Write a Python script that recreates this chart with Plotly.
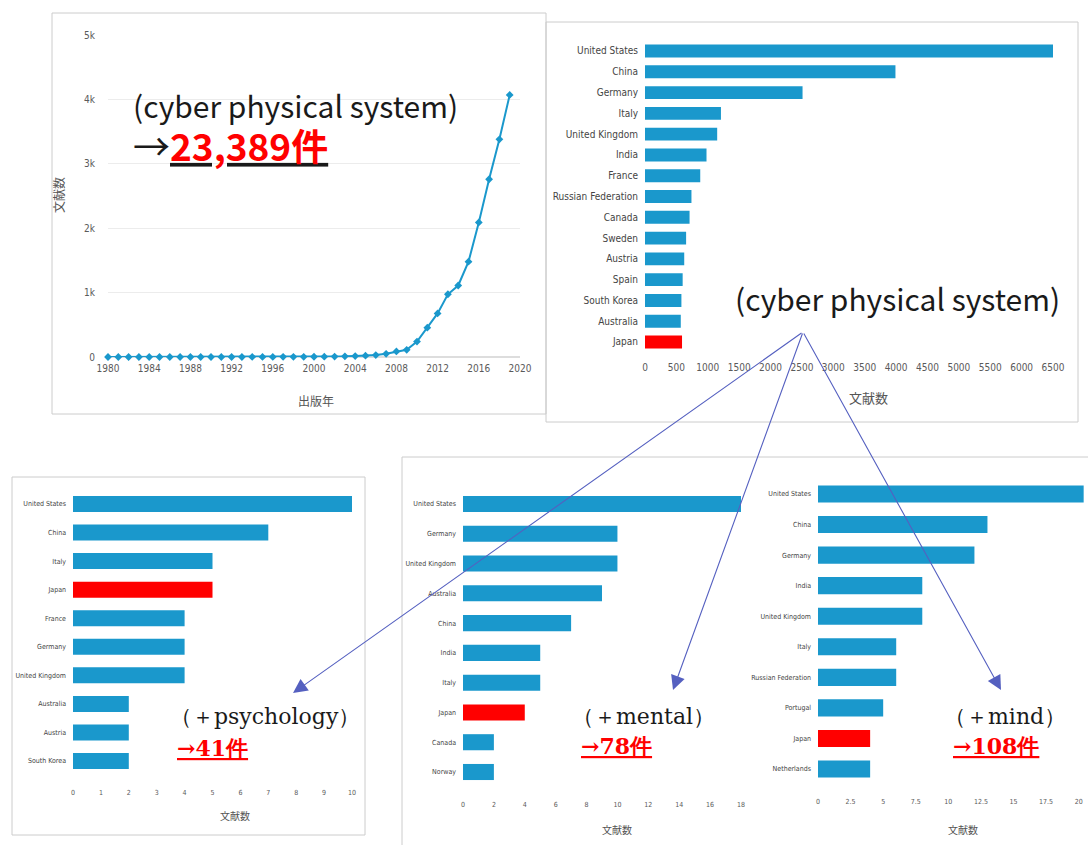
import plotly.graph_objects as go

W, H = 1088, 845

# ---------------- data ----------------
years = list(range(1980, 2020))
pubs = [0, 0, 0, 0, 0, 0, 0, 0, 0, 0,
        0, 0, 0, 0, 1, 1, 1, 2, 2, 3,
        4, 5, 7, 10, 15, 20, 30, 50, 86, 112,
        240, 456, 677, 974, 1110, 1480, 2090, 2760, 3380, 4070]
line_yticks = [0, 1000, 2000, 3000, 4000, 5000]
line_ytext = ["0", "1k", "2k", "3k", "4k", "5k"]
line_xticks = [1980, 1984, 1988, 1992, 1996, 2000, 2004, 2008, 2012, 2016, 2020]

cps_countries = ["United States", "China", "Germany", "Italy", "United Kingdom", "India",
                 "France", "Russian Federation", "Canada", "Sweden", "Austria", "Spain",
                 "South Korea", "Australia", "Japan"]
cps_values = [6550, 3990, 2510, 1210, 1150, 980, 880, 740, 710, 655, 625, 600, 580, 570, 590]

psy_countries = ["United States", "China", "Italy", "Japan", "France", "Germany",
                 "United Kingdom", "Australia", "Austria", "South Korea"]
psy_values = [10, 7, 5, 5, 4, 4, 4, 2, 2, 2]

mental_countries = ["United States", "Germany", "United Kingdom", "Australia", "China",
                    "India", "Italy", "Japan", "Canada", "Norway"]
mental_values = [18, 10, 10, 9, 7, 5, 5, 4, 2, 2]

mind_countries = ["United States", "China", "Germany", "India", "United Kingdom", "Italy",
                  "Russian Federation", "Portugal", "Japan", "Netherlands"]
mind_values = [21, 13, 12, 8, 8, 6, 6, 5, 4, 4]

BLUE = "#1a98cc"
RED = "#ff0000"
GRID = "#ececec"
TICKC = "#5a5a5a"
NARROW = "Liberation Sans Narrow, Arial Narrow, DejaVu Sans Condensed, sans-serif"
JP = "Noto Sans CJK JP, sans-serif"
SERIF = "DejaVu Serif, Liberation Serif, serif"


def fx(x):
    return x / W


def fy(y):
    return 1 - y / H


def colors(countries):
    return [RED if c == "Japan" else BLUE for c in countries]


fig = go.Figure()

# line chart
fig.add_trace(go.Scatter(x=years, y=pubs, mode="lines+markers", xaxis="x", yaxis="y",
                         line=dict(color=BLUE, width=2),
                         marker=dict(symbol="diamond", size=6, color=BLUE),
                         cliponaxis=False, showlegend=False))

# bar charts
bar_sets = [
    (cps_countries, cps_values, "x2", "y2", 0.62),
    (psy_countries, psy_values, "x3", "y3", 0.56),
    (mental_countries, mental_values, "x4", "y4", 0.54),
    (mind_countries, mind_values, "x5", "y5", 0.56),
]
for cats, vals, xa, ya, wd in bar_sets:
    fig.add_trace(go.Bar(x=vals, y=cats, orientation="h", xaxis=xa, yaxis=ya,
                         marker=dict(color=colors(cats), line=dict(width=0)),
                         width=wd, showlegend=False))

layout = dict(
    width=W, height=H, autosize=False,
    margin=dict(l=0, r=0, t=0, b=0, pad=0, autoexpand=False),
    paper_bgcolor="white", plot_bgcolor="rgba(0,0,0,0)",
    bargap=0.4, showlegend=False,
)

# line chart axes
layout["xaxis"] = dict(domain=[fx(108), fx(520)], range=[1980, 2020], tickvals=line_xticks,
                       showgrid=False, zeroline=False, showline=False, ticks="",
                       automargin=False,
                       tickfont=dict(family=NARROW, size=10, color=TICKC),
                       ticklabelstandoff=4, anchor="y")
layout["yaxis"] = dict(domain=[fy(357), fy(35)], range=[0, 5000], tickvals=line_yticks,
                       ticktext=line_ytext, showgrid=True, gridcolor=GRID, gridwidth=1,
                       zeroline=True, zerolinecolor="#dddddd", showline=False,
                       automargin=False,
                       tickfont=dict(family=NARROW, size=10, color=TICKC),
                       ticklabelstandoff=12, anchor="x")


def bar_axes(n, xdom, ytop, ybot, ncat, xrange, dtick, tickfont_size, labfont_size,
             x_standoff, cats, ticktext=None, tickvals=None):
    sp = (ybot - ytop) / (ncat - 1)
    xa = dict(domain=[fx(xdom[0]), fx(xdom[1])], range=xrange, showgrid=False,
              zeroline=False, showline=False, ticks="", automargin=False,
              tickfont=dict(family=NARROW, size=tickfont_size, color=TICKC),
              ticklabelstandoff=x_standoff, anchor="y%d" % n)
    if tickvals is not None:
        xa["tickvals"] = tickvals
        xa["ticktext"] = ticktext
    else:
        xa["dtick"] = dtick
        xa["tick0"] = 0
    ya = dict(domain=[fy(ybot + sp / 2), fy(ytop - sp / 2)], type="category",
              categoryorder="array", categoryarray=cats, automargin=False,
              range=[ncat - 0.5, -0.5], showgrid=False, zeroline=False, showline=False,
              ticks="", tickfont=dict(family=NARROW, size=labfont_size, color="#444"),
              ticklabelstandoff=6, anchor="x%d" % n)
    layout["xaxis%d" % n] = xa
    layout["yaxis%d" % n] = ya


bar_axes(2, (645, 1053), 51, 342, 15, [0, 6500], 500, 10, 10, 8, cps_countries)
bar_axes(3, (73, 352), 504, 761, 10, [0, 10], 1, 7, 7, 12, psy_countries)
bar_axes(4, (463, 741), 504, 772, 10, [0, 18], 2, 7, 7, 12, mental_countries)
bar_axes(5, (818, 1083 + 5 * 265 / 2000), 494, 769, 10, [0, 20.38], 2.5, 7, 7, 12,
         mind_countries,
         tickvals=[0, 2.5, 5, 7.5, 10, 12.5, 15, 17.5, 20],
         ticktext=["0", "2.5", "5", "7.5", "10", "12.5", "15", "17.5", "20"])

fig.update_layout(**layout)

# panel frames
frames = [(52, 13, 546, 414), (546, 22, 1078, 422), (12, 477, 365, 835), (402, 457, 1092, 850)]
for x0, y0, x1, y1 in frames:
    fig.add_shape(type="rect", xref="paper", yref="paper",
                  x0=fx(x0), x1=fx(x1), y0=fy(y1), y1=fy(y0),
                  line=dict(color="#cccccc", width=1), fillcolor="rgba(0,0,0,0)", layer="below")


def ann(text, x, y, size, color="#222", family=JP, xanchor="center", angle=0, align="center"):
    fig.add_annotation(text=text, x=fx(x), y=fy(y), xref="paper", yref="paper",
                       showarrow=False, xanchor=xanchor, yanchor="middle", textangle=angle,
                       align=align, font=dict(family=family, size=size, color=color))


# axis titles
ann("文献数", 58, 195, 12, "#555", angle=-90)
ann("出版年", 316, 400, 12, "#555")
ann("文献数", 868, 397, 13, "#555")
ann("文献数", 235, 815, 10, "#555")
ann("文献数", 617, 829, 10, "#555")
ann("文献数", 963, 829, 10, "#555")

# big labels (two lines of the top-left caption kept in one text block)
ann("<span style='font-size:30px'>(cyber physical system)</span><br>"
    "<span style='font-size:37px'>→<b><u><span style='color:#ff0000'>23,389件</span></u></b></span>",
    131, 128, 33, "#1a1a1a", family=JP, xanchor="left", align="left")
ann("(cyber physical system)", 733, 298, 30, "#1a1a1a", family=JP, xanchor="left")

ann("（＋psychology）", 168, 716, 22, "#1a1a1a", family=SERIF, xanchor="left")
ann("<b><u>→41件</u></b>", 175, 748, 22, RED, family=SERIF, xanchor="left")
ann("（＋mental）", 570, 716, 22, "#1a1a1a", family=SERIF, xanchor="left")
ann("<b><u>→78件</u></b>", 579, 746, 22, RED, family=SERIF, xanchor="left")
ann("（＋mind）", 942, 716, 22, "#1a1a1a", family=SERIF, xanchor="left")
ann("<b><u>→108件</u></b>", 951, 746, 22, RED, family=SERIF, xanchor="left")

# arrows from the top-right label to the three refined searches
origin = (803, 332)
targets = [(293, 693), (673, 690), (1001, 690)]
for tx, ty in targets:
    fig.add_annotation(x=fx(tx), y=fy(ty), ax=origin[0] - tx, ay=origin[1] - ty,
                       xref="paper", yref="paper", axref="pixel", ayref="pixel",
                       text="", showarrow=True, arrowhead=2, arrowsize=2.6, arrowwidth=1.1,
                       arrowcolor="#5560c0", standoff=0, startstandoff=0)

fig.write_html("out.html", config={"displayModeBar": False},
               post_script="document.body.style.margin='0px';")
